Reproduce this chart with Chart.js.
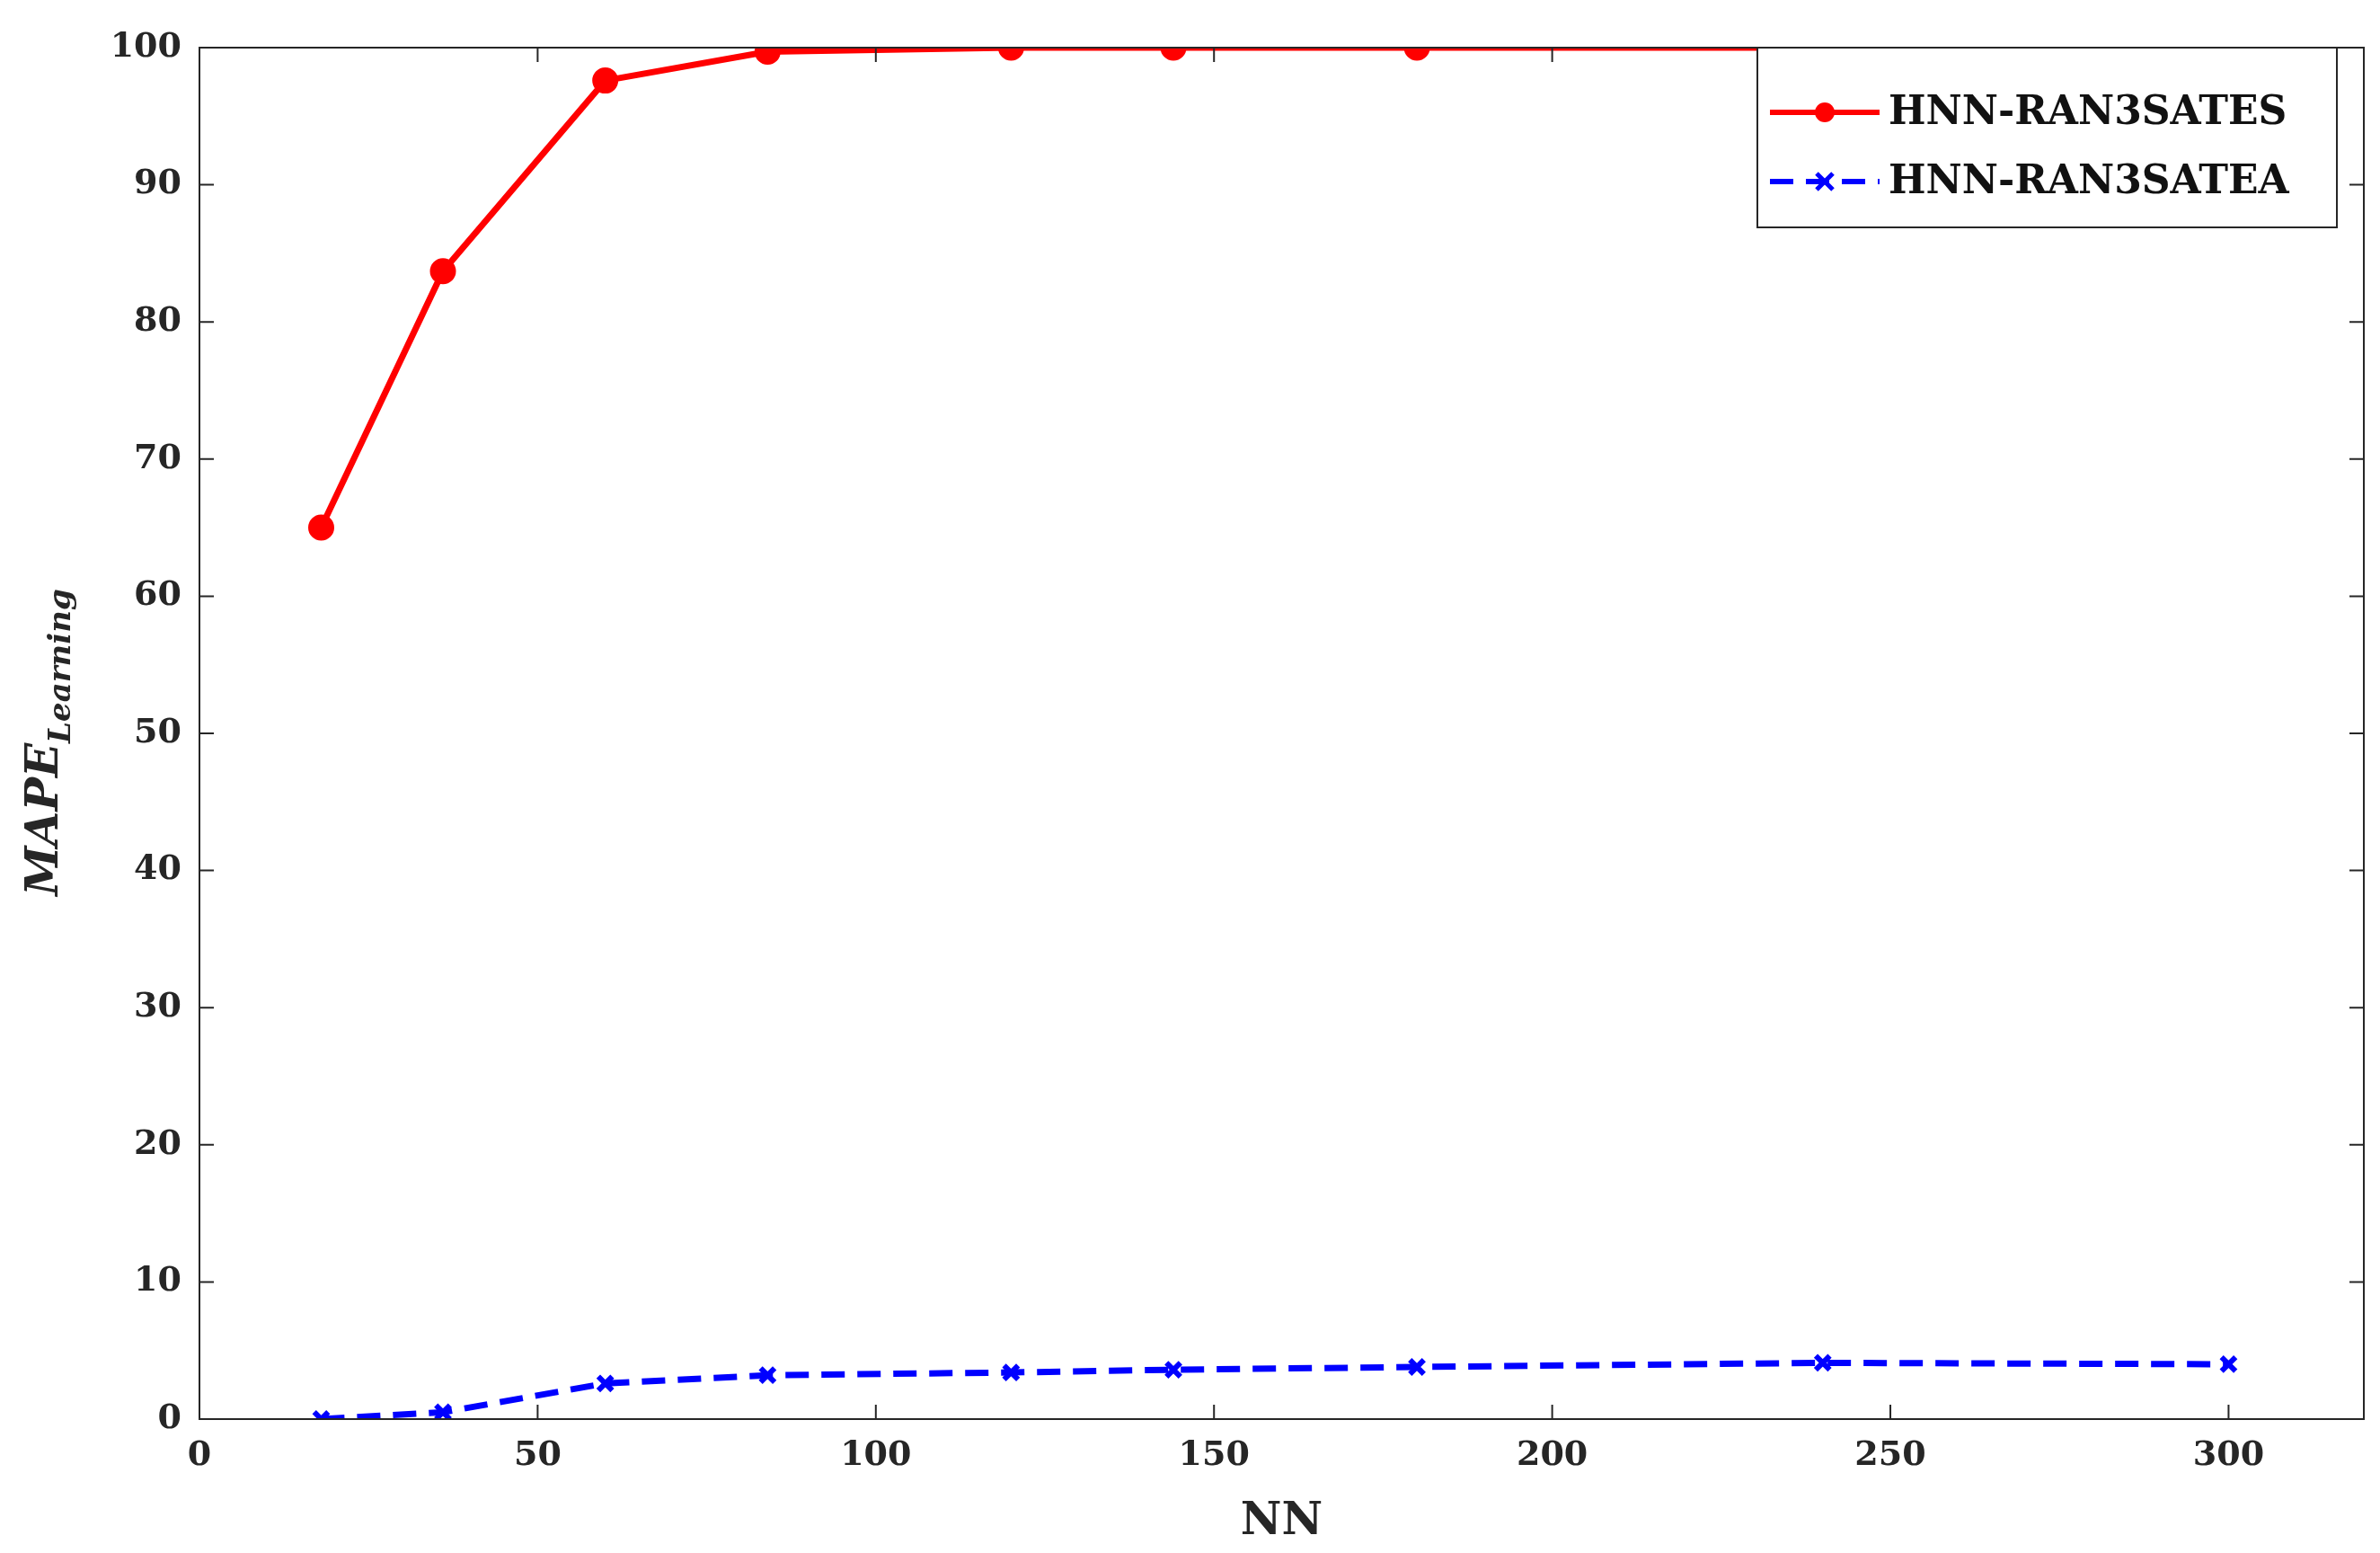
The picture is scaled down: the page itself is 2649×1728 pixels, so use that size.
<!DOCTYPE html>
<html><head><meta charset="utf-8">
<script src="https://cdn.jsdelivr.net/npm/chart.js@4"></script>
<style>html,body{margin:0;padding:0;background:#fff}#wrap{width:2649px;height:1728px}</style>
</head><body><div id="wrap"><canvas id="c"></canvas></div>
<script>
const nn = [18, 36, 60, 84, 120, 144, 180, 240, 300];
const satesValues = [65, 83.7, 97.6, 99.7, 100, 100, 100, 100, 100];
const sateaValues = [0, 0.5, 2.6, 3.2, 3.4, 3.6, 3.8, 4.1, 4.0];
const seriesNames = ['HNN-RAN3SATES', 'HNN-RAN3SATEA'];
const FONT = '"DejaVu Serif", "Liberation Serif", serif';

// box, inward ticks, y title and legend
const decor = {
  id: 'decor',
  afterDraw(chart) {
    const ctx = chart.ctx, a = chart.chartArea;
    const xs = chart.scales.x, ys = chart.scales.y;
    ctx.save();
    ctx.strokeStyle = '#262626'; ctx.lineWidth = 2;
    ctx.strokeRect(a.left, a.top, a.right - a.left, a.bottom - a.top);
    ctx.beginPath();
    xs.ticks.forEach(t => {
      const px = xs.getPixelForValue(t.value);
      ctx.moveTo(px, a.bottom); ctx.lineTo(px, a.bottom - 16);
      ctx.moveTo(px, a.top); ctx.lineTo(px, a.top + 16);
    });
    ys.ticks.forEach(t => {
      const py = ys.getPixelForValue(t.value);
      ctx.moveTo(a.left, py); ctx.lineTo(a.left + 16, py);
      ctx.moveTo(a.right, py); ctx.lineTo(a.right - 16, py);
    });
    ctx.stroke();

    // y title: MAPE with subscript Learning
    ctx.fillStyle = '#262626';
    ctx.translate(64, (a.top + a.bottom) / 2 + 10);
    ctx.rotate(-Math.PI / 2);
    ctx.font = 'italic bold 50px ' + FONT;
    const w1 = ctx.measureText('MAPE').width;
    ctx.font = 'italic bold 34px ' + FONT;
    const w2 = ctx.measureText('Learning').width;
    ctx.textBaseline = 'alphabetic'; ctx.textAlign = 'left';
    ctx.font = 'italic bold 50px ' + FONT;
    ctx.fillText('MAPE', -(w1 + w2) / 2, 0);
    ctx.font = 'italic bold 34px ' + FONT;
    ctx.fillText('Learning', -(w1 + w2) / 2 + w1, 14);
    ctx.restore();

    // legend
    ctx.save();
    const lx = 1956, ly = 53, lw = 645, lh = 200;
    ctx.fillStyle = '#fff'; ctx.fillRect(lx, ly, lw, lh);
    ctx.strokeStyle = '#262626'; ctx.lineWidth = 2; ctx.strokeRect(lx, ly, lw, lh);
    ctx.font = 'bold 44px ' + FONT; ctx.textBaseline = 'middle';
    chart.data.datasets.forEach((ds, i) => {
      const y = ly + 72 + i * 77;
      ctx.strokeStyle = ds.borderColor; ctx.lineWidth = 6;
      ctx.setLineDash(ds.borderDash || []);
      ctx.beginPath(); ctx.moveTo(lx + 14, y); ctx.lineTo(lx + 136, y); ctx.stroke();
      ctx.setLineDash([]);
      const mx = lx + 75;
      if (ds.pointStyle === 'circle') {
        ctx.fillStyle = ds.borderColor;
        ctx.beginPath(); ctx.arc(mx, y, 11, 0, Math.PI * 2); ctx.fill();
      } else {
        ctx.lineWidth = 5;
        ctx.beginPath(); ctx.moveTo(mx - 9, y - 9); ctx.lineTo(mx + 9, y + 9);
        ctx.moveTo(mx + 9, y - 9); ctx.lineTo(mx - 9, y + 9); ctx.stroke();
      }
      ctx.fillStyle = '#111'; ctx.fillText(ds.label, lx + 146, y + 2);
    });
    ctx.restore();
  }
};

new Chart(document.getElementById('c'), {
  type: 'line',
  data: {
    datasets: [
      { label: seriesNames[0], data: nn.map((x, i) => ({ x, y: satesValues[i] })),
        borderColor: '#ff0000', backgroundColor: '#ff0000', borderWidth: 7,
        pointStyle: 'circle', pointRadius: 11, tension: 0 },
      { label: seriesNames[1], data: nn.map((x, i) => ({ x, y: sateaValues[i] })),
        borderColor: '#0000ff', backgroundColor: '#0000ff', borderWidth: 7,
        borderDash: [26, 14], pointStyle: 'crossRot', pointRadius: 11, pointBorderWidth: 6, tension: 0 }
    ]
  },
  options: {
    responsive: true, maintainAspectRatio: false, animation: false,
    layout: { padding: { left: 0, right: 15, top: 53, bottom: 0 } },
    plugins: { legend: { display: false }, tooltip: { enabled: false } },
    scales: {
      x: {
        type: 'linear', min: 0, max: 320,
        ticks: { stepSize: 50, color: '#262626', font: { family: FONT, size: 38, weight: 'bold' }, padding: 10,
          callback: v => (v === 320 ? '' : v) },
        grid: { display: false }, border: { display: false },
        title: { display: true, text: 'NN', color: '#262626', font: { family: FONT, size: 50, weight: 'bold' }, padding: { top: 6 } },
        afterFit(s) { s.height = 1728 - 1579; }
      },
      y: {
        min: 0, max: 100,
        ticks: { stepSize: 10, color: '#262626', font: { family: FONT, size: 38, weight: 'bold' }, padding: 12 },
        grid: { display: false }, border: { display: false },
        afterFit(s) { s.width = 222; }
      }
    }
  },
  plugins: [decor]
});
</script></body></html>
